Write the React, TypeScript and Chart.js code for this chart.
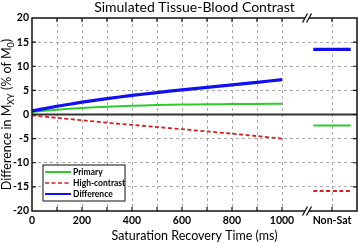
import React, { useEffect, useRef } from "react";
import { Chart, registerables } from "chart.js";

Chart.register(...registerables);

const times = [0, 100, 200, 300, 400, 500, 600, 700, 800, 900, 1000];
const primary = [0.5, 1.0, 1.35, 1.6, 1.8, 1.95, 2.05, 2.12, 2.17, 2.2, 2.22];
const highContrast = [-0.2, -0.7, -1.2, -1.7, -2.15, -2.6, -3.05, -3.5, -3.97, -4.47, -5.0];
const difference = [0.75, 1.7, 2.55, 3.3, 3.95, 4.55, 5.1, 5.62, 6.14, 6.67, 7.22];

const nonSatSpan = [1125, 1275];
const nonSatPrimary = -2.3;
const nonSatHighContrast = -15.85;
const nonSatDifference = 13.5;

const xTickValues = [0, 100, 200, 300, 400, 500, 600, 700, 800, 900, 1000, 1200];
const xTickLabels: Record<number, string> = { 0: "0", 200: "200", 400: "400", 600: "600", 800: "800", 1000: "1000", 1200: "Non-Sat" };
const breakValue = 1100;

const GREEN = "#2ccc2c";
const RED = "#d42020";
const BLUE = "#1010f0";
const FONT = "Lato, 'Open Sans', sans-serif";

const pts = (xs: number[], ys: number[]) => xs.map((x, i) => ({ x, y: ys[i] }));
const flat = (v: number) => nonSatSpan.map((x) => ({ x, y: v }));

const overlay = {
  id: "overlay",
  beforeDatasetsDraw(chart: any) {
    const { ctx, chartArea: a, scales } = chart;
    const y0 = scales.y.getPixelForValue(0);
    ctx.save();
    ctx.strokeStyle = "#333";
    ctx.lineWidth = 2;
    ctx.beginPath();
    ctx.moveTo(a.left, y0);
    ctx.lineTo(a.right, y0);
    ctx.stroke();
    ctx.restore();
  },
  afterDraw(chart: any) {
    const { ctx, chartArea: a, scales } = chart;
    const { x, y } = scales;
    ctx.save();
    // frame
    ctx.strokeStyle = "#111";
    ctx.lineWidth = 1.5;
    ctx.strokeRect(a.left, a.top, a.right - a.left, a.bottom - a.top);
    // inward ticks
    ctx.lineWidth = 1.2;
    ctx.beginPath();
    x.ticks.forEach((t: any) => {
      if (t.value <= 0 || t.value >= 1300) return;
      const px = x.getPixelForValue(t.value);
      ctx.moveTo(px, a.top);
      ctx.lineTo(px, a.top + 4);
      ctx.moveTo(px, a.bottom);
      ctx.lineTo(px, a.bottom - 4);
    });
    y.ticks.forEach((t: any) => {
      if (t.value <= -20 || t.value >= 20) return;
      const py = y.getPixelForValue(t.value);
      ctx.moveTo(a.left, py);
      ctx.lineTo(a.left + 4, py);
      ctx.moveTo(a.right, py);
      ctx.lineTo(a.right - 4, py);
    });
    ctx.stroke();
    // break marks
    const bx = x.getPixelForValue(breakValue);
    [a.top, a.bottom].forEach((by: number) => {
      ctx.fillStyle = "#fff";
      ctx.fillRect(bx - 2, by - 2, 4, 4);
      ctx.strokeStyle = "#111";
      ctx.lineWidth = 1.3;
      ctx.beginPath();
      [-2, 2].forEach((o) => {
        ctx.moveTo(bx + o - 2.5, by + 4.5);
        ctx.lineTo(bx + o + 2.5, by - 4.5);
      });
      ctx.stroke();
    });
    // title
    const cx = (a.left + a.right) / 2;
    ctx.fillStyle = "#000";
    ctx.textAlign = "center";
    ctx.textBaseline = "alphabetic";
    ctx.font = `14px ${FONT}`;
    ctx.fillText("Simulated Tissue-Blood Contrast", cx, 12);
    // x title
    ctx.font = `12.5px ${FONT}`;
    ctx.fillText("Saturation Recovery Time (ms)", cx, 240);
    // y title with subscripts
    const big = `12.5px ${FONT}`;
    const small = `9px ${FONT}`;
    const parts: [string, boolean][] = [
      ["Difference in M", false],
      ["XY", true],
      [" (% of M", false],
      ["0", true],
      [")", false],
    ];
    let total = 0;
    const widths = parts.map(([s, sub]) => {
      ctx.font = sub ? small : big;
      const w = ctx.measureText(s).width;
      total += w;
      return w;
    });
    const cy = (a.top + a.bottom) / 2;
    ctx.translate(11, cy);
    ctx.rotate(-Math.PI / 2);
    ctx.textAlign = "left";
    let pos = -total / 2;
    parts.forEach(([s, sub], i) => {
      ctx.font = sub ? small : big;
      ctx.fillText(s, pos, sub ? 3 : 0);
      pos += widths[i];
    });
    ctx.restore();

    // legend
    ctx.save();
    const lx = 43, ly = 165, lw = 82, lh = 36;
    ctx.fillStyle = "#fff";
    ctx.fillRect(lx, ly, lw, lh);
    ctx.strokeStyle = "#111";
    ctx.lineWidth = 1;
    ctx.strokeRect(lx, ly, lw, lh);
    const items: [string, string, number, number[]][] = [
      ["Primary", GREEN, 2, []],
      ["High-contrast", RED, 1.5, [4, 2.5]],
      ["Difference", BLUE, 2, []],
    ];
    ctx.font = `bold 8.5px ${FONT}`;
    ctx.textBaseline = "middle";
    ctx.textAlign = "left";
    items.forEach(([label, color, w, dash], i) => {
      const ry = ly + 7 + i * 11;
      ctx.strokeStyle = color;
      ctx.lineWidth = w;
      ctx.setLineDash(dash);
      ctx.beginPath();
      ctx.moveTo(lx + 2, ry);
      ctx.lineTo(lx + 28, ry);
      ctx.stroke();
      ctx.setLineDash([]);
      ctx.fillStyle = "#000";
      ctx.fillText(label, lx + 30, ry + 0.5);
    });
    ctx.restore();
  },
};

export default function App() {
  const ref = useRef<HTMLCanvasElement>(null);
  useEffect(() => {
    if (!ref.current) return;
    const tickFont = { family: FONT, size: 10.5, weight: "bold" as const };
    const chart = new Chart(ref.current, {
      type: "line",
      data: {
        datasets: [
          { label: "Difference", data: pts(times, difference), borderColor: BLUE, borderWidth: 3.2 },
          { label: "Primary", data: pts(times, primary), borderColor: GREEN, borderWidth: 2 },
          { label: "High-contrast", data: pts(times, highContrast), borderColor: RED, borderWidth: 1.8, borderDash: [4, 2.5] },
          { label: "Difference (Non-Sat)", data: flat(nonSatDifference), borderColor: BLUE, borderWidth: 3.2 },
          { label: "Primary (Non-Sat)", data: flat(nonSatPrimary), borderColor: GREEN, borderWidth: 2 },
          { label: "High-contrast (Non-Sat)", data: flat(nonSatHighContrast), borderColor: RED, borderWidth: 1.8, borderDash: [4, 2.5] },
        ] as any,
      },
      options: {
        animation: false,
        responsive: false,
        elements: { point: { radius: 0 }, line: { tension: 0.2, fill: false } },
        layout: { padding: { top: 18, right: 1, left: 0, bottom: 0 } },
        plugins: { legend: { display: false }, title: { display: false }, tooltip: { enabled: false } },
        scales: {
          x: {
            type: "linear",
            min: 0,
            max: 1300,
            afterBuildTicks: (s: any) => {
              s.ticks = xTickValues.map((v) => ({ value: v }));
            },
            afterFit: (s: any) => {
              s.height = 32;
            },
            ticks: {
              autoSkip: false,
              maxRotation: 0,
              padding: 3,
              color: "#000",
              font: tickFont,
              callback: (v: any) => xTickLabels[v as number] ?? "",
            },
            grid: {
              drawTicks: false,
              color: (c: any) => (c.tick && c.tick.value > 0 && c.tick.value < 1300 ? "#a8a8a8" : "rgba(0,0,0,0)"),
              lineWidth: 1,
            },
            border: { display: false, dash: [3, 3] },
          },
          y: {
            min: -20,
            max: 20,
            afterFit: (s: any) => {
              s.width = 32;
            },
            ticks: { stepSize: 5, padding: 3, color: "#000", font: tickFont },
            grid: {
              drawTicks: false,
              color: (c: any) =>
                c.tick && c.tick.value > -20 && c.tick.value < 20 && c.tick.value !== 0 ? "#a8a8a8" : "rgba(0,0,0,0)",
              lineWidth: 1,
            },
            border: { display: false, dash: [3, 3] },
          },
        },
      },
      plugins: [overlay],
    });
    return () => chart.destroy();
  }, []);
  return (
    <div style={{ position: "absolute", left: 0, top: 0, width: 358, height: 243, background: "#fff" }}>
      <canvas ref={ref} width={358} height={243} style={{ width: 358, height: 243, display: "block" }} />
    </div>
  );
}
